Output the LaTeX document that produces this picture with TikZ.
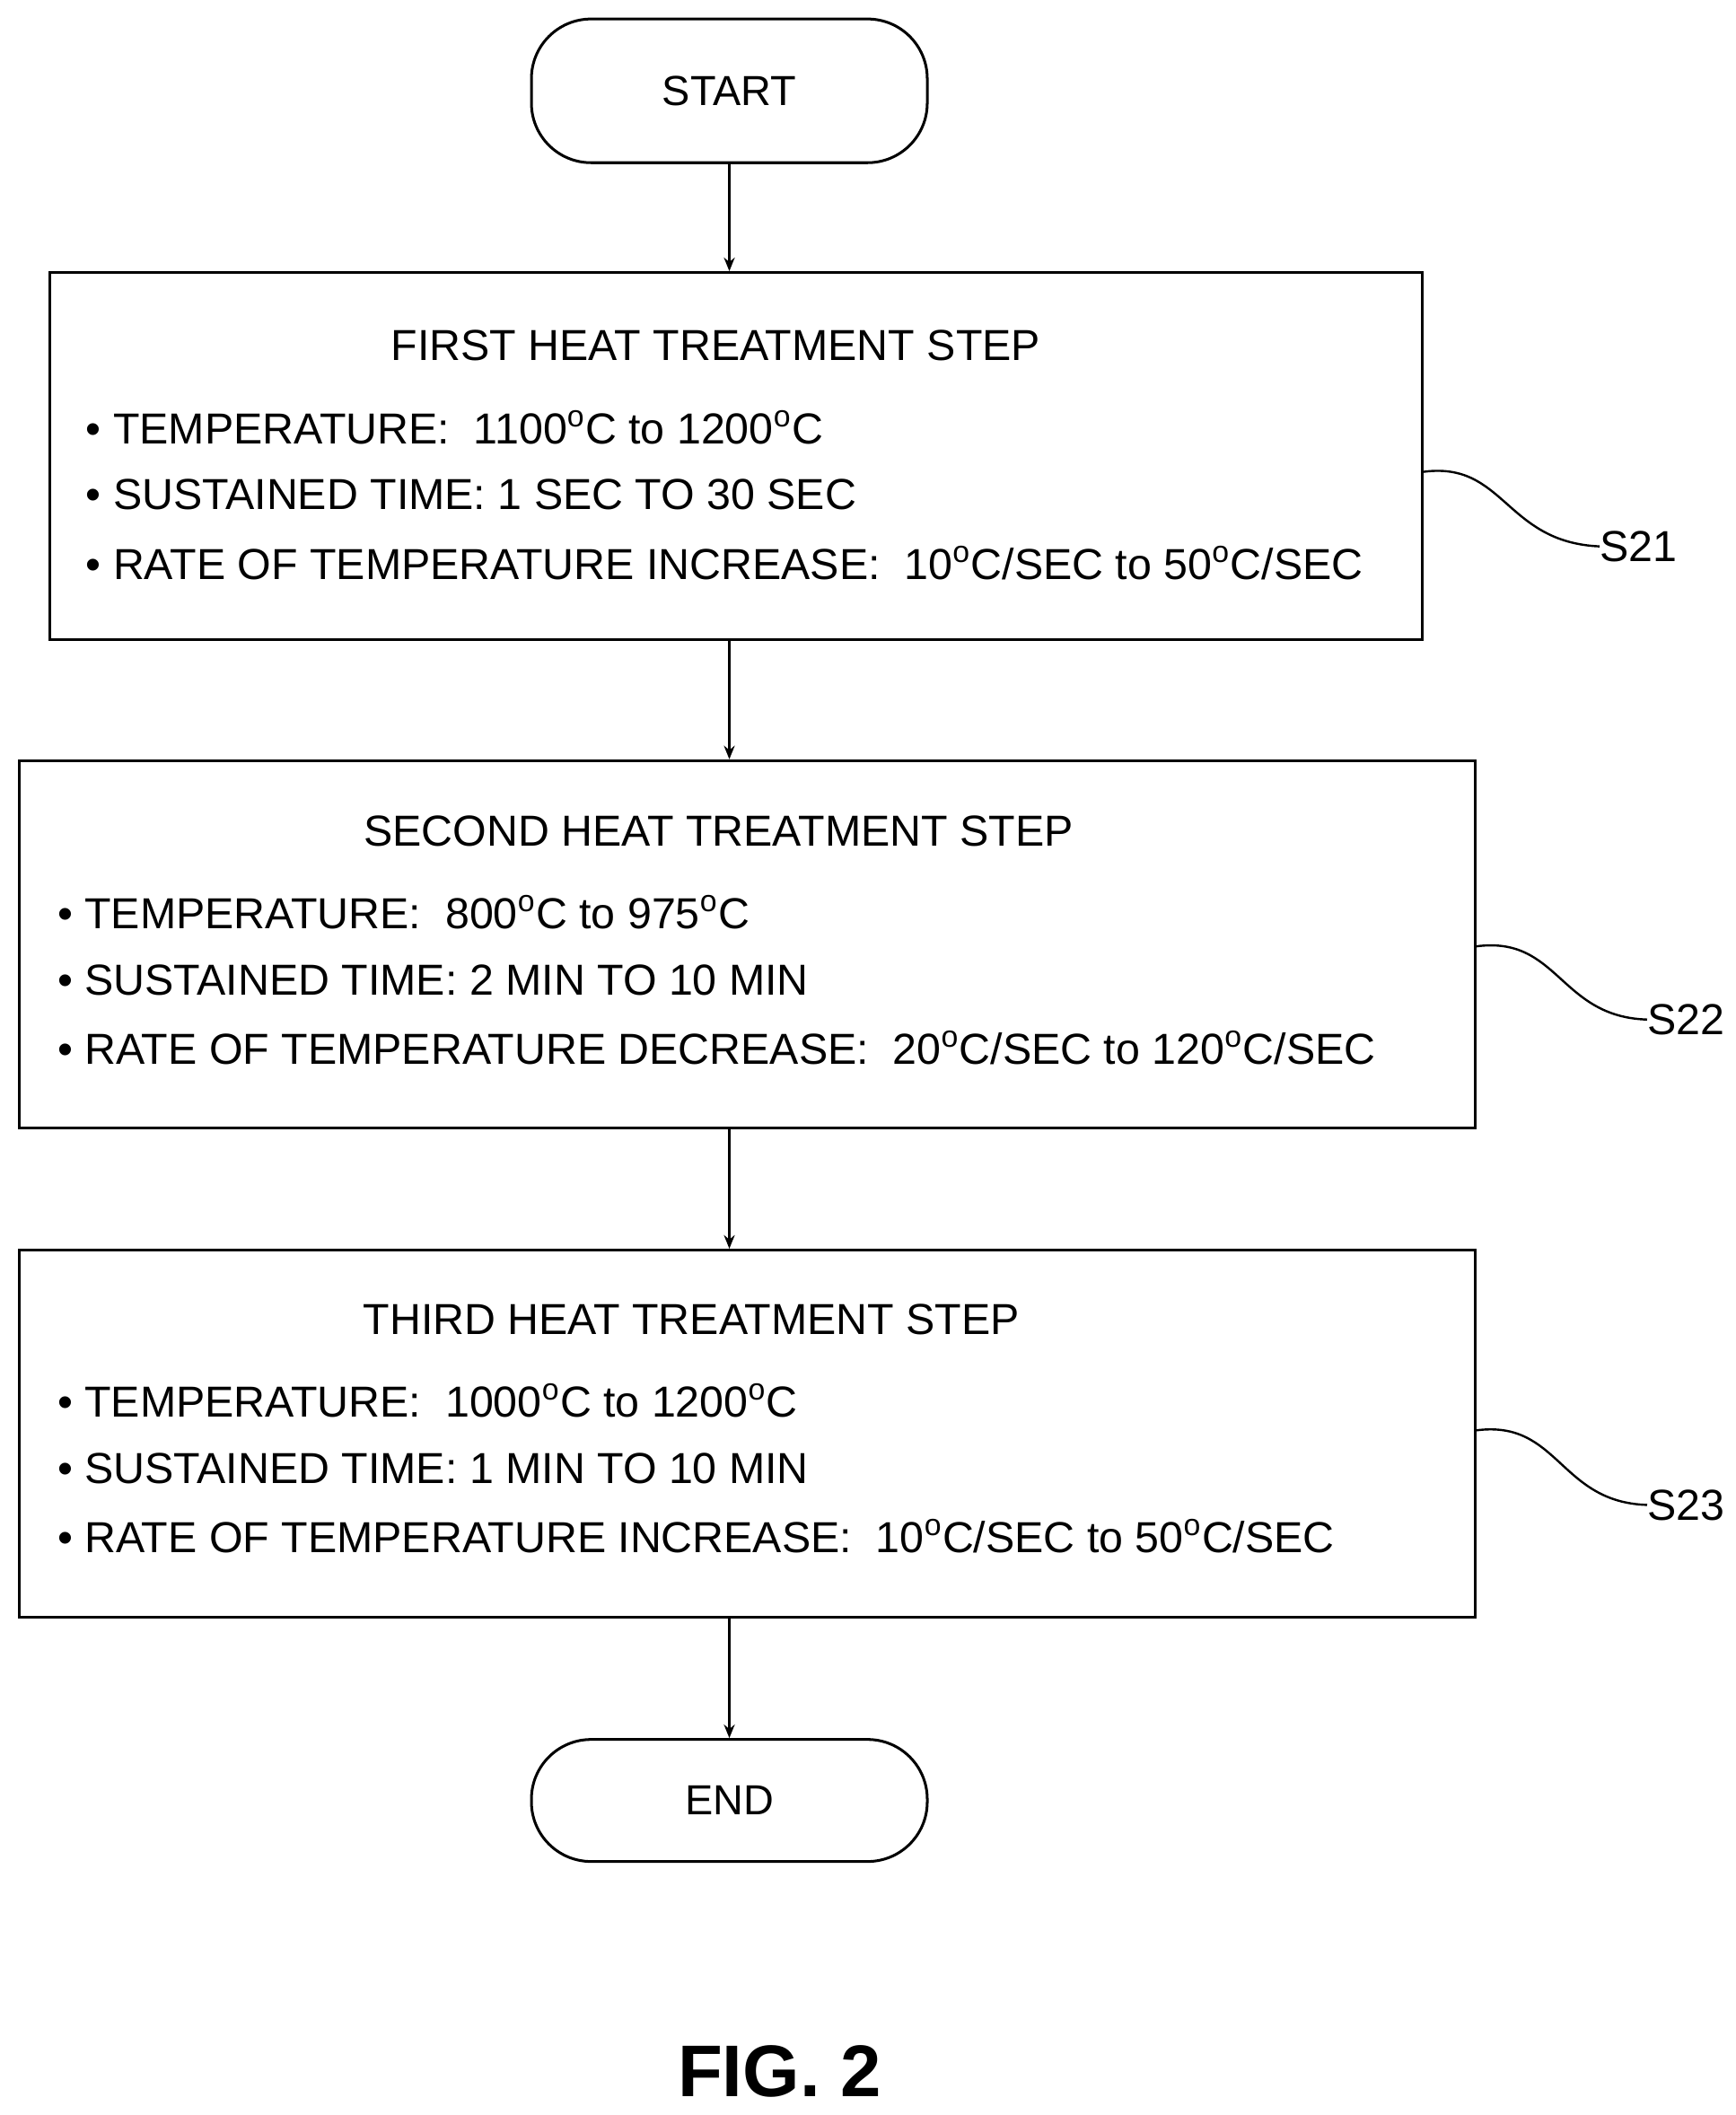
\documentclass[tikz,border=0pt]{standalone}
\usepackage{fontspec}
\setmainfont{Liberation Sans}
\usetikzlibrary{arrows.meta}
\begin{document}
\begin{tikzpicture}[x=0.5pt,y=-0.5pt,
  term/.style={draw,line width=1pt,rounded corners=22pt,minimum width=146pt,align=center,font=\fontsize{15.5}{18}\selectfont},
  box/.style={draw,line width=1pt},
  arr/.style={-{Stealth[length=5pt,width=4pt]},line width=0.8pt},
  txt/.style={anchor=west,font=\fontsize{16}{18}\selectfont,inner sep=0pt},
  ttl/.style={font=\fontsize{16}{18}\selectfont,inner sep=0pt},
  lead/.style={line width=0.8pt}]
\useasboundingbox (0,0) rectangle (1280,1560);
\newcommand{\dg}{\textsuperscript{o}}
\node[term,minimum height=53pt] (start) at (538,67) {START};
\node[box,minimum width=506pt,minimum height=135.5pt] (b1) at (543,336.5) {};
\node[box,minimum width=537pt,minimum height=135.5pt] (b2) at (551,696.5) {};
\node[box,minimum width=537pt,minimum height=135.5pt] (b3) at (551,1057.5) {};
\node[term,minimum height=45pt] (end) at (538,1328) {END};
\draw[arr] (start) -- (start|-b1.north);
\draw[arr] (b1.south-|start) -- (start|-b2.north);
\draw[arr] (b2.south-|start) -- (start|-b3.north);
\draw[arr] (b3.south-|start) -- (end);
% box 1
\node[ttl] (t1) at (528,255) {FIRST HEAT TREATMENT STEP};
\node[txt] (a1) at (63,315) {•\ TEMPERATURE:\ \ 1100\dg C to 1200\dg C};
\node[txt] (a2) at (63,365) {•\ SUSTAINED TIME: 1 SEC TO 30 SEC};
\node[txt] (a3) at (63,415) {•\ RATE OF TEMPERATURE INCREASE:\ \ 10\dg C/SEC to 50\dg C/SEC};
% box 2
\node[ttl] (t2) at (530,613) {SECOND HEAT TREATMENT STEP};
\node[txt] (c1) at (42,673) {•\ TEMPERATURE:\ \ 800\dg C to 975\dg C};
\node[txt] (c2) at (42,723) {•\ SUSTAINED TIME: 2 MIN TO 10 MIN};
\node[txt] (c3) at (42,773) {•\ RATE OF TEMPERATURE DECREASE:\ \ 20\dg C/SEC to 120\dg C/SEC};
% box 3
\node[ttl] (t3) at (510,973) {THIRD HEAT TREATMENT STEP};
\node[txt] (d1) at (42,1033) {•\ TEMPERATURE:\ \ 1000\dg C to 1200\dg C};
\node[txt] (d2) at (42,1083) {•\ SUSTAINED TIME: 1 MIN TO 10 MIN};
\node[txt] (d3) at (42,1133) {•\ RATE OF TEMPERATURE INCREASE:\ \ 10\dg C/SEC to 50\dg C/SEC};
% labels
\node[ttl,anchor=west] (s21) at (1180,403) {S21};
\node[ttl,anchor=west] (s22) at (1215,752) {S22};
\node[ttl,anchor=west] (s23) at (1215,1110) {S23};
\draw[lead] (b1.east|-0,348) .. controls (1110,340) and (1110,400) .. (s21.west);
\draw[lead] (b2.east|-0,698) .. controls (1150,690) and (1150,750) .. (s22.west);
\draw[lead] (b3.east|-0,1055) .. controls (1150,1047) and (1150,1108) .. (s23.west);
\node[font=\bfseries\fontsize{27}{30}\selectfont] (fig) at (575,1528) {FIG. 2};
\end{tikzpicture}
\end{document}
